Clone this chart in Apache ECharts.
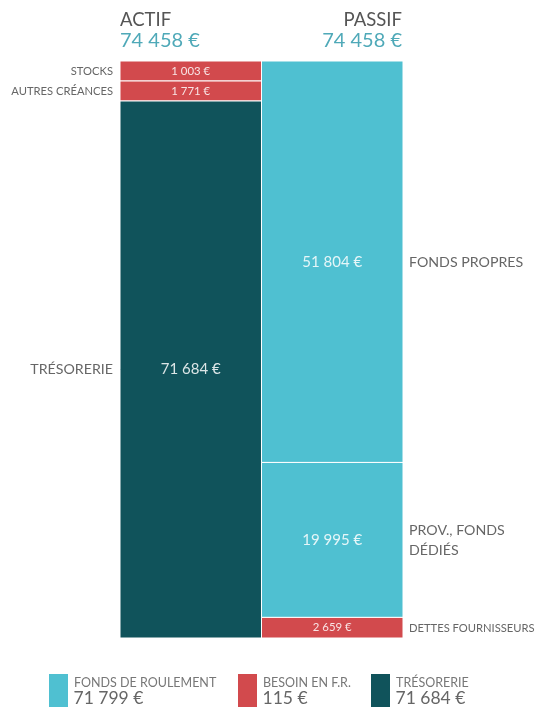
<!DOCTYPE html>
<html><head><meta charset="utf-8">
<script src="https://cdn.jsdelivr.net/npm/echarts@6/dist/echarts.min.js"></script>
<style>html,body{margin:0;padding:0;background:#fff}#c{width:540px;height:713px}</style>
</head><body><div id="c"></div>
<script>
const columns = ['ACTIF', 'PASSIF'];
const actifLabels = ['STOCKS', 'AUTRES CRÉANCES', 'TRÉSORERIE'];
const actifValues = [1003, 1771, 71684];
const actifKinds = ['bfr', 'bfr', 'tres'];
const passifLabels = ['FONDS PROPRES', 'PROV., FONDS DÉDIÉS', 'DETTES FOURNISSEURS'];
const passifValues = [51804, 19995, 2659];
const passifKinds = ['fr', 'fr', 'bfr'];
const legendLabels = ['FONDS DE ROULEMENT', 'BESOIN EN F.R.', 'TRÉSORERIE'];
const legendValues = [71799, 115, 71684];
const legendKinds = ['fr', 'bfr', 'tres'];

const COLORS = { fr: '#4fc0d1', bfr: '#d24a4d', tres: '#10535b' };
const FONT = 'Lato, "Open Sans", sans-serif';
const fmt = v => String(v).replace(/\B(?=(\d{3})+(?!\d))/g, '\u00a0') + '\u00a0€';
const sum = a => a.reduce((s, v) => s + v, 0);
const cols = [
  { labels: actifLabels, values: actifValues, kinds: actifKinds },
  { labels: passifLabels, values: passifValues, kinds: passifKinds }
];
const totals = cols.map(c => sum(c.values));
const MIN_H = 20;

function layoutHeights(values, H) {
  const t = sum(values);
  const h = values.map(v => v / t * H);
  let deficit = 0;
  h.forEach((x, i) => { if (x < MIN_H) { deficit += MIN_H - x; h[i] = MIN_H; } });
  let big = 0; h.forEach((x, i) => { if (x > h[big]) big = i; });
  h[big] -= deficit;
  return h;
}

const segData = [];
cols.forEach((c, ci) => c.values.forEach((v, si) => segData.push([ci, si, v])));

const chart = echarts.init(document.getElementById('c'), null, { renderer: 'canvas' });
const titleGraphics = [];
[[120, 'left'], [402, 'right']].forEach(([x, align], i) => {
  titleGraphics.push({ type: 'text', style: { text: columns[i], x: x, y: 20, align: align,
    verticalAlign: 'middle', fill: '#555', font: '18.5px ' + FONT } });
  titleGraphics.push({ type: 'text', style: { text: fmt(totals[i]), x: x, y: 41, align: align,
    verticalAlign: 'middle', fill: '#4fa9b8', font: '20px ' + FONT } });
});
const legendX = [49, 238, 371];
const legendGraphics = legendLabels.map((lab, i) => ({
  type: 'group', x: legendX[i], y: 674,
  children: [
    { type: 'rect', shape: { x: 0, y: 0, width: 19, height: 33 }, style: { fill: COLORS[legendKinds[i]] } },
    { type: 'text', style: { text: lab, x: 25, y: 8.5, verticalAlign: 'middle', fill: '#777', font: '12.5px ' + FONT } },
    { type: 'text', style: { text: fmt(legendValues[i]), x: 24.5, y: 24.5, verticalAlign: 'middle', fill: '#666', font: '17.5px ' + FONT } }
  ]
}));

const option = {
  animation: false,
  grid: { left: 120, right: 137, top: 61, bottom: 75 },
  xAxis: { type: 'category', data: columns, show: false },
  yAxis: { type: 'value', min: 0, max: Math.max(...totals), show: false },
  series: [{
    type: 'custom',
    data: segData,
    renderItem: function (params, api) {
      const ci = api.value(0), si = api.value(1);
      const c = cols[ci];
      const total = totals[ci];
      const top = api.coord([ci, total])[1];
      const bot = api.coord([ci, 0])[1];
      const hs = layoutHeights(c.values, bot - top);
      let y = top;
      for (let k = 0; k < si; k++) y += hs[k];
      const h = hs[si];
      const cx = api.coord([ci, 0])[0];
      const bw = api.size([1, 0])[0];
      const x0 = cx - bw / 2, x1 = cx + bw / 2;
      const small = h < 30;
      const fsIn = small ? 11.4 : 15;
      const fsSide = small ? 11.2 : 14.2;
      const children = [
        { type: 'rect', shape: { x: x0, y: y, width: x1 - x0, height: h },
          style: { fill: COLORS[c.kinds[si]], stroke: '#fff', lineWidth: 1 } },
        { type: 'text', style: { text: fmt(c.values[si]), x: cx, y: y + h / 2, align: 'center',
          verticalAlign: 'middle', fill: 'rgba(255,255,255,0.85)', font: fsIn + 'px ' + FONT } }
      ];
      if (ci === 0) {
        children.push({ type: 'text', style: { text: c.labels[si], x: x0 - 7, y: y + h / 2,
          align: 'right', verticalAlign: 'middle', fill: '#666', font: fsSide + 'px ' + FONT } });
      } else {
        children.push({ type: 'text', style: { text: c.labels[si], x: x1 + 6, y: y + h / 2 + 1,
          align: 'left', verticalAlign: 'middle', fill: '#666', font: fsSide + 'px ' + FONT,
          width: 540 - (x1 + 6) - 2, overflow: 'break', lineHeight: 20 } });
      }
      return { type: 'group', children: children };
    }
  }],
  graphic: titleGraphics.concat(legendGraphics)
};
chart.setOption(option);
</script></body></html>
